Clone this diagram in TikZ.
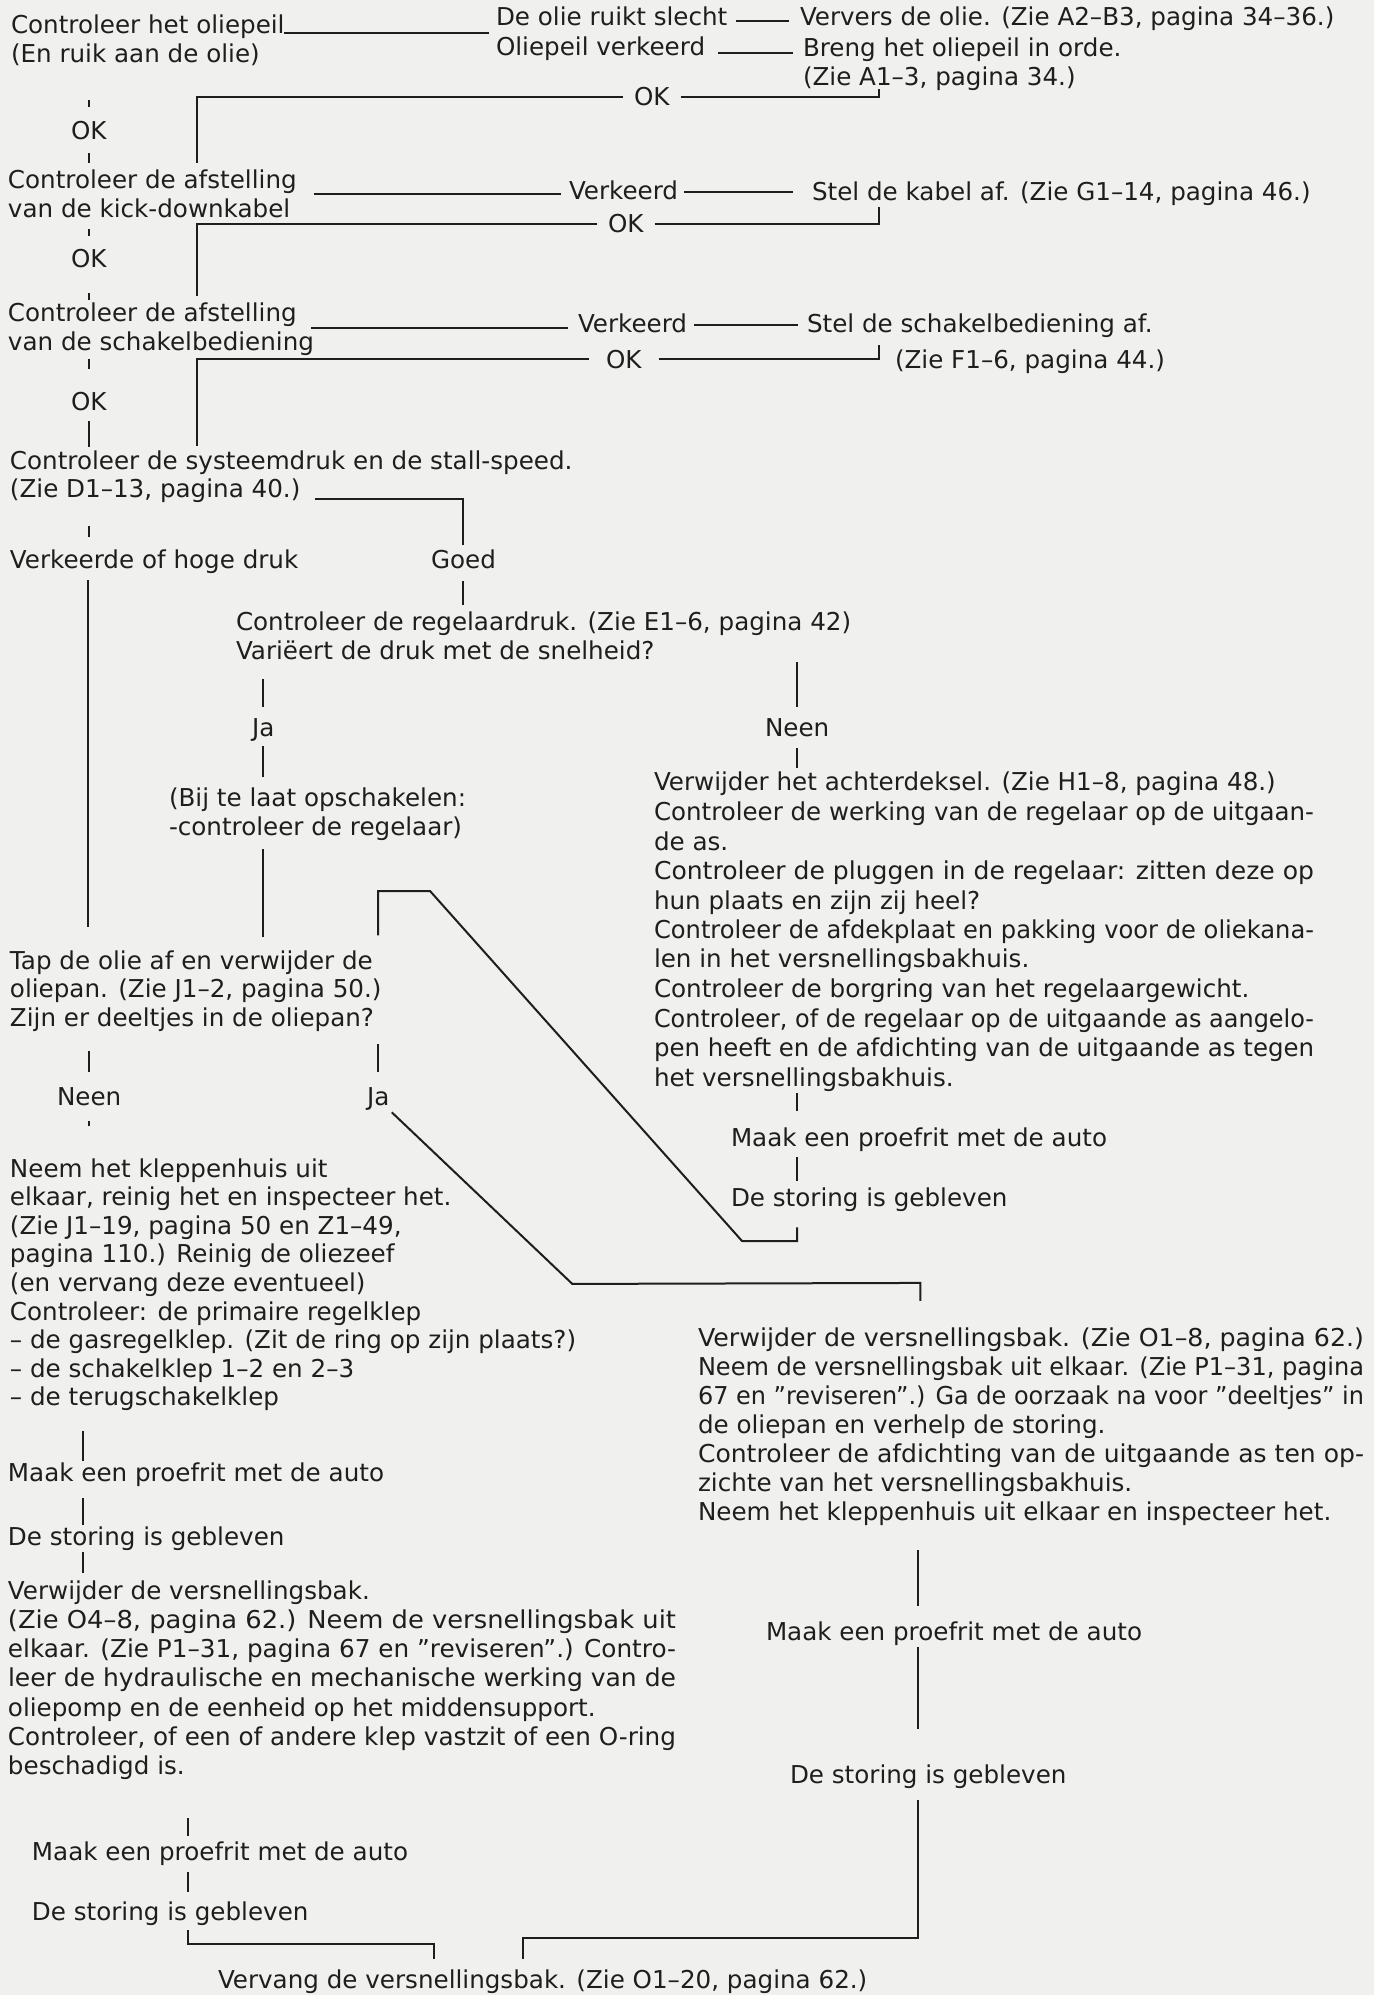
\documentclass[tikz,border=0pt]{standalone}
\usepackage{fontspec}
\setmainfont{DejaVu Sans}
\usepackage{graphicx}
\usepackage{tikz}
\usetikzlibrary{positioning}
\definecolor{paper}{HTML}{F0F0EE}
\definecolor{ink}{HTML}{1E1E1E}
\newcommand{\ftx}{\fontsize{12.3}{14.3}\selectfont}
\newcommand{\jl}[2]{\resizebox{#1}{\height}{#2}}

\begin{document}
\begin{tikzpicture}[x=0.5pt,y=-0.5pt,line width=1pt,color=ink,
  txt/.style={inner sep=0pt,anchor=base west,font=\ftx},
  blk/.style={inner sep=0pt,anchor=north west,align=left,font=\ftx}]
\fill[paper] (0,0) rectangle (1374,1995);
\useasboundingbox (0,0) rectangle (1374,1995);
% oliepeil
\node[blk] (oliepeil) at (10,14) {Controleer het oliepeil\\(En ruik aan de olie)};
\node[txt] (ruikt) at (495,26) {De olie ruikt slecht};
\node[txt] (ververs) at (799,26) {Ververs de olie. (Zie A2–B3, pagina 34–36.)};
\node[txt] (peilfout) at (495,56) {Oliepeil verkeerd};
\node[blk] (orde) at (802,37) {Breng het oliepeil in orde.\\(Zie A1–3, pagina 34.)};
\node[txt] (okA) at (633,106) {OK};
\node[txt] (okL1) at (70,140) {OK};
% kick-down
\node[blk] (afstelA) at (7,169.3) {Controleer de afstelling\\van de kick-downkabel};
\node[txt] (verkA) at (568,200) {Verkeerd};
\node[txt] (kabel) at (811,201) {Stel de kabel af. (Zie G1–14, pagina 46.)};
\node[txt] (okB) at (607,233) {OK};
\node[txt] (okL2) at (70,268) {OK};
% schakelbediening
\node[blk] (afstelB) at (7,302.3) {Controleer de afstelling\\van de schakelbediening};
\node[txt] (verkB) at (577,333) {Verkeerd};
\node[txt] (schakel) at (806,333) {Stel de schakelbediening af.};
\node[txt] (zieF) at (894,368) {(Zie F1–6, pagina 44.)};
\node[txt] (okC) at (605,368) {OK};
\node[txt] (okL3) at (70,410) {OK};
% systeemdruk
\node[blk,font=\fontsize{12.3}{14}\selectfont] (systeem) at (9,450.3) {Controleer de systeemdruk en de stall-speed.\\(Zie D1–13, pagina 40.)};
\node[txt] (verkeerde) at (9,568) {Verkeerde of hoge druk};
\node[txt] (goed) at (430,568) {Goed};
% regelaardruk
\node[blk] (regelaar) at (235,611.3) {Controleer de regelaardruk. (Zie E1–6, pagina 42)\\Variëert de druk met de snelheid?};
\node[txt] (ja1) at (251,736) {Ja};
\node[blk] (bij) at (168,787.3) {(Bij te laat opschakelen:\\-controleer de regelaar)};
\node[txt] (neen1) at (764,736) {Neen};
\node[blk,font=\fontsize{12.3}{14.75}\selectfont] (achter) at (653,771.3) {Verwijder het achterdeksel. (Zie H1–8, pagina 48.)\\
\jl{330pt}{Controleer de werking van de regelaar op de uitgaan-}\\
de as.\\
\jl{330pt}{Controleer de pluggen in de regelaar: zitten deze op}\\
hun plaats en zijn zij heel?\\
\jl{330pt}{Controleer de afdekplaat en pakking voor de oliekana-}\\
len in het versnellingsbakhuis.\\
Controleer de borgring van het regelaargewicht.\\
\jl{330pt}{Controleer, of de regelaar op de uitgaande as aangelo-}\\
\jl{330pt}{pen heeft en de afdichting van de uitgaande as tegen}\\
het versnellingsbakhuis.};
\node[txt] (maakR1) at (730,1146) {Maak een proefrit met de auto};
\node[txt] (storR1) at (730,1206) {De storing is gebleven};
% oliepan
\node[blk] (tap) at (9,949.3) {Tap de olie af en verwijder de\\oliepan. (Zie J1–2, pagina 50.)\\Zijn er deeltjes in de oliepan?};
\node[txt] (neen2) at (56,1105) {Neen};
\node[txt] (ja2) at (366,1105) {Ja};
% kleppenhuis
\node[blk] (klep) at (9,1157.3) {Neem het kleppenhuis uit\\
elkaar, reinig het en inspecteer het.\\
(Zie J1–19, pagina 50 en Z1–49,\\
pagina 110.) Reinig de oliezeef\\
(en vervang deze eventueel)\\
Controleer: de primaire regelklep\\
– de gasregelklep. (Zit de ring op zijn plaats?)\\
– de schakelklep 1–2 en 2–3\\
– de terugschakelklep};
\node[txt] (maakL1) at (7,1481) {Maak een proefrit met de auto};
\node[txt] (storL1) at (7,1545) {De storing is gebleven};
\node[blk,font=\fontsize{12.3}{14.65}\selectfont] (verwL) at (7,1579.3) {Verwijder de versnellingsbak.\\
\jl{334pt}{(Zie O4–8, pagina 62.) Neem de versnellingsbak uit}\\
\jl{334pt}{elkaar. (Zie P1–31, pagina 67 en ”reviseren”.) Contro-}\\
\jl{334pt}{leer de hydraulische en mechanische werking van de}\\
oliepomp en de eenheid op het middensupport.\\
\jl{334pt}{Controleer, of een of andere klep vastzit of een O-ring}\\
beschadigd is.};
\node[txt] (maakL2) at (31,1860) {Maak een proefrit met de auto};
\node[txt] (storL2) at (31,1920) {De storing is gebleven};
% versnellingsbak rechts
\node[blk,font=\fontsize{12.3}{14.5}\selectfont] (verwR) at (697,1326.3) {\jl{333pt}{Verwijder de versnellingsbak. (Zie O1–8, pagina 62.)}\\
\jl{333pt}{Neem de versnellingsbak uit elkaar. (Zie P1–31, pagina}\\
\jl{333pt}{67 en ”reviseren”.) Ga de oorzaak na voor ”deeltjes” in}\\
de oliepan en verhelp de storing.\\
\jl{333pt}{Controleer de afdichting van de uitgaande as ten op-}\\
zichte van het versnellingsbakhuis.\\
Neem het kleppenhuis uit elkaar en inspecteer het.};
\node[txt] (maakR2) at (765,1640) {Maak een proefrit met de auto};
\node[txt] (storR2) at (789,1783) {De storing is gebleven};
\node[txt] (vervang) at (217,1988) {Vervang de versnellingsbak. (Zie O1–20, pagina 62.)};

% lijnen
\draw (oliepeil.north west) ++(274,19) coordinate (o1) -- ([xshift=-3pt]o1 -| ruikt.west);
\draw[shorten <=4pt,shorten >=5pt] ([yshift=2.5pt]ruikt.base east) -- ([yshift=2.5pt]ruikt.base east -| ververs.west);
\draw[shorten <=6pt,shorten >=4.5pt] ([yshift=1.5pt]peilfout.base east) -- ([yshift=1.5pt]peilfout.base east -| orde.west);
\draw[shorten <=5pt] (okA.west) -| ([xshift=95pt,yshift=3pt]afstelA.north west);
\draw[shorten <=5pt] (okA.east) -| ([xshift=38.5pt,yshift=1pt]orde.south west);
\draw[shorten <=16.5pt,shorten >=7pt] (oliepeil.south -| okL1) -- (okL1.north);
\draw[shorten <=6pt,shorten >=3pt] (okL1.south) -- (okL1 |- afstelA.north);

\draw[shorten >=3.5pt] (afstelA.north west) ++(307,25) coordinate (a1) -- (a1 -| verkA.west);
\draw[shorten <=2.5pt,shorten >=9pt] ([yshift=4pt]verkA.base east) -- ([yshift=4pt]verkA.base east -| kabel.west);
\draw[shorten <=5pt] (okB.east) -| ([xshift=34pt,yshift=-3pt]kabel.base west);
\draw[shorten <=5pt] (okB.west) -| ([xshift=95pt,yshift=3pt]afstelB.north west);
\draw[shorten <=5.2pt,shorten >=6.5pt] (afstelA.south -| okL2) -- (okL2.north);
\draw[shorten <=12pt,shorten >=1pt] (okL2.south) -- (okL2 |- afstelB.north);

\draw[shorten >=4.5pt] (afstelB.north west) ++(304,26) coordinate (a2) -- (a2 -| verkB.west);
\draw[shorten <=3pt,shorten >=4pt] ([yshift=4pt]verkB.base east) -- ([yshift=4pt]verkB.base east -| schakel.west);
\draw[shorten <=8pt] (okC.east) -| ([xshift=36.5pt,yshift=-6pt]schakel.base west);
\draw[shorten <=8pt] (okC.west) -| ([xshift=94pt,yshift=2pt]systeem.north west);
\draw[shorten <=1pt,shorten >=11pt] (afstelB.south -| okL3) -- (okL3.north);
\draw[shorten <=5pt,shorten >=1.5pt] (okL3.south) -- (okL3 |- systeem.north);

\draw (systeem.north west) ++(306,48.7) coordinate (s1) -| ([yshift=1.5pt]goed.north);
\draw[shorten <=11.1pt,shorten >=5.7pt] ([xshift=40pt]systeem.south west) -- ([xshift=40pt]systeem.south west |- verkeerde.north);
\draw[shorten <=6pt,shorten >=3pt] (goed.south) -- (goed |- regelaar.north);
\draw[shorten <=3pt,shorten >=11pt] ([xshift=39.5pt]verkeerde.south west) -- ([xshift=39.5pt]verkeerde.south west |- tap.north);

\draw[shorten <=9.2pt,shorten >=5pt] (regelaar.south -| ja1) -- (ja1.north);
\draw[shorten <=2pt,shorten >=5pt] (ja1.south) -- (ja1 |- bij.north);
\draw[shorten <=3.8pt,shorten >=6pt] (bij.south -| ja1) -- (ja1 |- tap.north);
\draw[shorten <=0.7pt,shorten >=5pt] (regelaar.south -| neen1) -- (neen1.north);
\draw[shorten <=5.5pt,shorten >=1.7pt] (neen1.south) -- (neen1 |- achter.north);
\draw[shorten <=0.6pt,shorten >=7.6pt] (achter.south -| neen1) -- (neen1 |- maakR1.north);
\draw[shorten <=2.6pt,shorten >=2.6pt] (maakR1.south -| neen1) -- (neen1 |- storR1.north);
\draw[shorten <=7.6pt,shorten >=7pt] (storR1.south -| neen1) -- ++(0,29) -- ++(-55,0) -- ++(-312,-350) -- ++(-52,0) -- (ja2 |- tap.north);

\draw[shorten <=9.5pt,shorten >=7pt] (tap.south -| neen2) -- (neen2.north);
\draw[shorten <=7.5pt,shorten >=15.6pt] (neen2.south) -- (neen2 |- klep.north);
\draw[shorten <=6pt,shorten >=7pt] (tap.south -| ja2) -- (ja2.north);
\draw[shorten <=1pt] (ja2.south east) -- ++(182,173) -- ++(348,-1) -- ++(0,18);

\draw[shorten <=9.7pt] ([xshift=37pt]klep.south west) -- ([xshift=37pt]klep.south west |- maakL1.north);
\draw[shorten <=5.6pt] ([xshift=37pt]klep.south west |- maakL1.south) -- ([xshift=37pt]klep.south west |- storL1.north);
\draw[shorten <=0.6pt,shorten >=3pt] ([xshift=37pt]klep.south west |- storL1.south) -- ([xshift=37pt]klep.south west |- verwL.north);
\draw[shorten <=18.7pt,shorten >=2.2pt] ([xshift=78.5pt]maakL2.north west |- verwL.south) -- ([xshift=78.5pt]maakL2.north west);
\draw[shorten <=3.1pt,shorten >=4.2pt] ([xshift=78.5pt]maakL2.south west) -- ([xshift=78.5pt]storL2.north west);
\draw[shorten <=2pt,shorten >=4.65pt] ([xshift=78.5pt]storL2.south west) -- ++(0,18) -| ([xshift=108.5pt]vervang.north west);

\draw[shorten <=12pt,shorten >=7.2pt] ([xshift=76.5pt]maakR2.north west |- verwR.south) -- ([xshift=76.5pt]maakR2.north west);
\draw[shorten <=0.6pt,shorten >=17.2pt] ([xshift=76.5pt]maakR2.south west) -- ([xshift=76.5pt]maakR2.south west |- storR2.north);
\draw[shorten <=5.6pt,shorten >=4.65pt] ([xshift=64.5pt]storR2.south west) -- ++(0,149.2) -| ([xshift=153pt]vervang.north west);
\end{tikzpicture}
\end{document}
